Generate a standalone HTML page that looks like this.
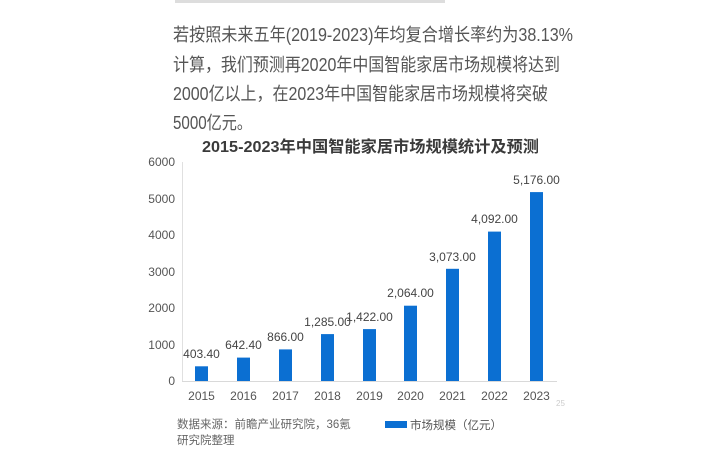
<!DOCTYPE html>
<html><head><meta charset="utf-8"><style>
body{margin:0;width:720px;height:453px;background:#fff;overflow:hidden}
svg{display:block}
</style></head><body>
<svg width="720" height="453" xmlns="http://www.w3.org/2000/svg" font-family="'Liberation Sans','Noto Sans CJK SC',sans-serif">
<rect x="175" y="0" width="270" height="3" fill="#ddd"/>
<g font-size="18" fill="#555">
<text x="173" y="41" textLength="400" lengthAdjust="spacingAndGlyphs">若按照未来五年(2019-2023)年均复合增长率约为38.13%</text>
<text x="173" y="71" textLength="387" lengthAdjust="spacingAndGlyphs">计算，我们预测再2020年中国智能家居市场规模将达到</text>
<text x="173" y="100" textLength="375" lengthAdjust="spacingAndGlyphs">2000亿以上，在2023年中国智能家居市场规模将突破</text>
<text x="173" y="129" textLength="79" lengthAdjust="spacingAndGlyphs">5000亿元。</text>
</g>
<text x="202" y="152" font-size="16" font-weight="bold" fill="#3a3a3a" textLength="337" lengthAdjust="spacingAndGlyphs">2015-2023年中国智能家居市场规模统计及预测</text>
<line x1="182.5" y1="162" x2="182.5" y2="381" stroke="#e0e0e0"/>
<line x1="182" y1="381.5" x2="557" y2="381.5" stroke="#d9d9d9"/>
<g font-size="12" fill="#555" text-anchor="end">
<text x="175" y="166">6000</text><text x="175" y="203">5000</text><text x="175" y="239">4000</text>
<text x="175" y="276">3000</text><text x="175" y="312">2000</text><text x="175" y="349">1000</text><text x="175" y="385">0</text>
</g>
<g fill="#0b6fd2">
<rect x="195" y="366.3" width="13" height="14.7"/>
<rect x="237" y="357.6" width="13" height="23.4"/>
<rect x="279" y="349.4" width="13" height="31.6"/>
<rect x="321" y="334.1" width="13" height="46.9"/>
<rect x="363" y="329.1" width="13" height="51.9"/>
<rect x="404" y="305.7" width="13" height="75.3"/>
<rect x="446" y="268.8" width="13" height="112.2"/>
<rect x="488" y="231.6" width="13" height="149.4"/>
<rect x="530" y="192.1" width="13" height="188.9"/>
</g>
<g font-size="12" fill="#444" text-anchor="middle">
<text x="201.5" y="358">403.40</text>
<text x="243.5" y="349">642.40</text>
<text x="285.5" y="341">866.00</text>
<text x="327.5" y="326">1,285.00</text>
<text x="369.5" y="321">1,422.00</text>
<text x="410.5" y="297">2,064.00</text>
<text x="452.5" y="261">3,073.00</text>
<text x="494.5" y="223">4,092.00</text>
<text x="536.5" y="184">5,176.00</text>
</g>
<g font-size="12" fill="#555" text-anchor="middle">
<text x="201.5" y="400">2015</text><text x="243.5" y="400">2016</text><text x="285.5" y="400">2017</text>
<text x="327.5" y="400">2018</text><text x="369.5" y="400">2019</text><text x="410.5" y="400">2020</text>
<text x="452.5" y="400">2021</text><text x="494.5" y="400">2022</text><text x="536.5" y="400">2023</text>
</g>
<text x="556" y="406" font-size="8" fill="#ccc">25</text>
<text x="177" y="428" font-size="11.5" fill="#666">数据来源：前瞻产业研究院，36氪</text>
<text x="177" y="444" font-size="11.5" fill="#666">研究院整理</text>
<rect x="385" y="421" width="22" height="7" fill="#0b6fd2"/>
<text x="410" y="429" font-size="11.5" fill="#555">市场规模（亿元）</text>
</svg>
</body></html>
